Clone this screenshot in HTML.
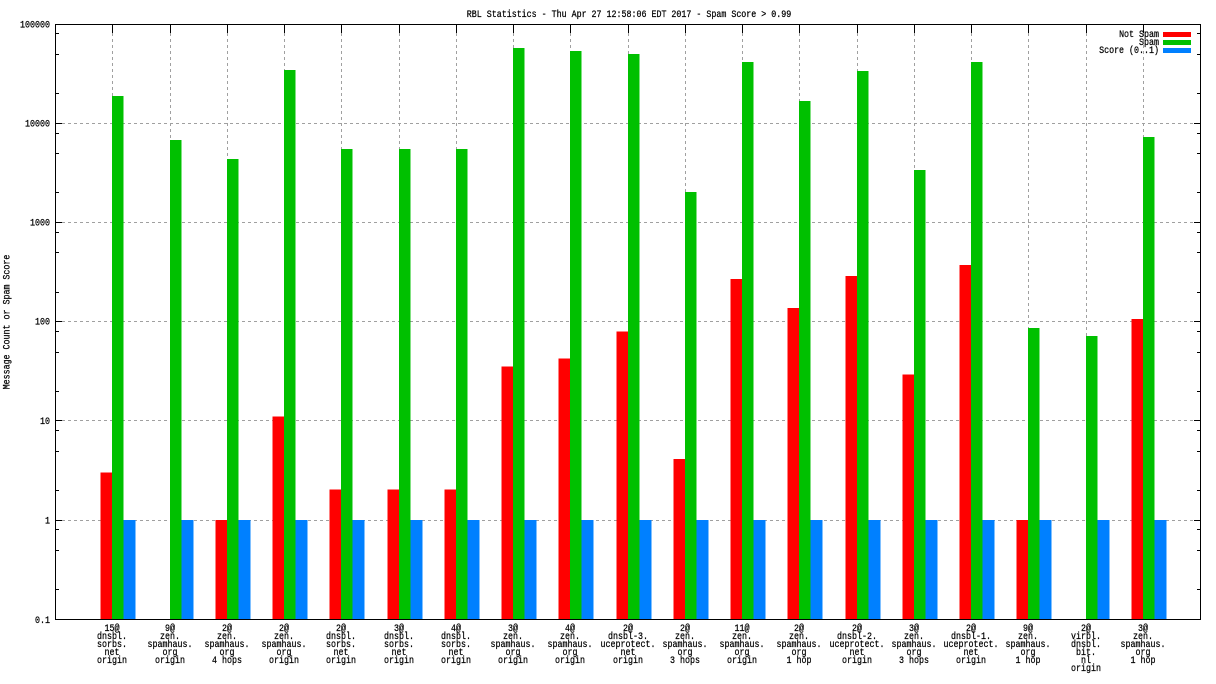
<!DOCTYPE html>
<html>
<head>
<meta charset="utf-8">
<style>
html,body{margin:0;padding:0;background:#fff;}
svg{display:block;}
text{font-family:"Liberation Mono","DejaVu Sans Mono",monospace;font-size:10px;fill:#000;stroke:#000;stroke-width:0.25px;}
.m{text-anchor:middle;}
.e{text-anchor:end;}
</style>
</head>
<body>
<svg width="1216" height="684" viewBox="0 0 1216 684" xmlns="http://www.w3.org/2000/svg">
<rect x="0" y="0" width="1216" height="684" fill="#fff"/>

<!-- grid -->
<g stroke="#a0a0a0" stroke-width="1" stroke-dasharray="3,3" fill="none" shape-rendering="crispEdges">
<path d="M62 123.5H1193M62 222.5H1193M62 321.5H1193M62 420.5H1193M62 520.5H1193"/>
<path d="M112.5 33V619M170.5 33V619M227.5 33V619M284.5 33V619M341.5 33V619M399.5 33V619M456.5 33V619M513.5 33V619M570.5 33V619M628.5 33V619M685.5 33V619M742.5 33V619M799.5 33V619M857.5 33V619M914.5 33V619M971.5 33V619M1028.5 33V619M1086.5 33V619M1143.5 33V619"/>
</g>

<!-- ticks -->
<g stroke="#000" stroke-width="1" fill="none" shape-rendering="crispEdges">
<path d="M55 24.5h7M55 123.5h7M55 222.5h7M55 321.5h7M55 420.5h7M55 520.5h7M55 619.5h7"/>
<path d="M1201 24.5h-7M1201 123.5h-7M1201 222.5h-7M1201 321.5h-7M1201 420.5h-7M1201 520.5h-7M1201 619.5h-7"/>
<path d="M55 33.5h4M55 54.5h4M55 93.5h4M55 133.5h4M55 153.5h4M55 192.5h4M55 232.5h4M55 252.5h4M55 292.5h4M55 331.5h4M55 352.5h4M55 391.5h4M55 430.5h4M55 451.5h4M55 490.5h4M55 529.5h4M55 550.5h4M55 589.5h4"/>
<path d="M1201 33.5h-4M1201 54.5h-4M1201 93.5h-4M1201 133.5h-4M1201 153.5h-4M1201 192.5h-4M1201 232.5h-4M1201 252.5h-4M1201 292.5h-4M1201 331.5h-4M1201 352.5h-4M1201 391.5h-4M1201 430.5h-4M1201 451.5h-4M1201 490.5h-4M1201 529.5h-4M1201 550.5h-4M1201 589.5h-4"/>
<path d="M112.5 24v9M170.5 24v9M227.5 24v9M284.5 24v9M341.5 24v9M399.5 24v9M456.5 24v9M513.5 24v9M570.5 24v9M628.5 24v9M685.5 24v9M742.5 24v9M799.5 24v9M857.5 24v9M914.5 24v9M971.5 24v9M1028.5 24v9M1086.5 24v9M1143.5 24v9"/>
<path d="M112.5 619v-9M170.5 619v-9M227.5 619v-9M284.5 619v-9M341.5 619v-9M399.5 619v-9M456.5 619v-9M513.5 619v-9M570.5 619v-9M628.5 619v-9M685.5 619v-9M742.5 619v-9M799.5 619v-9M857.5 619v-9M914.5 619v-9M971.5 619v-9M1028.5 619v-9M1086.5 619v-9M1143.5 619v-9"/>
</g>

<!-- red bars: Not Spam -->
<g fill="#ff0000" shape-rendering="crispEdges">
<rect x="100.3" y="472.5" width="11.7" height="146.5"/>
<rect x="215.3" y="520" width="11.7" height="99"/>
<rect x="272.3" y="416.5" width="11.7" height="202.5"/>
<rect x="329.3" y="489.5" width="11.7" height="129.5"/>
<rect x="387.3" y="489.5" width="11.7" height="129.5"/>
<rect x="444.3" y="489.5" width="11.7" height="129.5"/>
<rect x="501.3" y="366.5" width="11.7" height="252.5"/>
<rect x="558.3" y="358.5" width="11.7" height="260.5"/>
<rect x="616.3" y="331.5" width="11.7" height="287.5"/>
<rect x="673.3" y="459" width="11.7" height="160"/>
<rect x="730.3" y="279" width="11.7" height="340"/>
<rect x="787.3" y="308" width="11.7" height="311"/>
<rect x="845.3" y="276" width="11.7" height="343"/>
<rect x="902.3" y="374.5" width="11.7" height="244.5"/>
<rect x="959.3" y="265" width="11.7" height="354"/>
<rect x="1016.3" y="520" width="11.7" height="99"/>
<rect x="1131.3" y="319" width="11.7" height="300"/>
</g>

<!-- green bars: Spam -->
<g fill="#00c000" shape-rendering="crispEdges">
<rect x="112" y="96" width="11.7" height="523"/>
<rect x="170" y="140" width="11.7" height="479"/>
<rect x="227" y="159" width="11.7" height="460"/>
<rect x="284" y="70" width="11.7" height="549"/>
<rect x="341" y="149" width="11.7" height="470"/>
<rect x="399" y="149" width="11.7" height="470"/>
<rect x="456" y="149" width="11.7" height="470"/>
<rect x="513" y="48" width="11.7" height="571"/>
<rect x="570" y="51" width="11.7" height="568"/>
<rect x="628" y="54" width="11.7" height="565"/>
<rect x="685" y="192" width="11.7" height="427"/>
<rect x="742" y="62" width="11.7" height="557"/>
<rect x="799" y="101" width="11.7" height="518"/>
<rect x="857" y="71" width="11.7" height="548"/>
<rect x="914" y="170" width="11.7" height="449"/>
<rect x="971" y="62" width="11.7" height="557"/>
<rect x="1028" y="328" width="11.7" height="291"/>
<rect x="1086" y="336" width="11.7" height="283"/>
<rect x="1143" y="137" width="11.7" height="482"/>
</g>

<!-- blue bars: Score -->
<g fill="#0080ff" shape-rendering="crispEdges">
<rect x="123.7" y="520" width="11.7" height="99"/>
<rect x="181.7" y="520" width="11.7" height="99"/>
<rect x="238.7" y="520" width="11.7" height="99"/>
<rect x="295.7" y="520" width="11.7" height="99"/>
<rect x="352.7" y="520" width="11.7" height="99"/>
<rect x="410.7" y="520" width="11.7" height="99"/>
<rect x="467.7" y="520" width="11.7" height="99"/>
<rect x="524.7" y="520" width="11.7" height="99"/>
<rect x="581.7" y="520" width="11.7" height="99"/>
<rect x="639.7" y="520" width="11.7" height="99"/>
<rect x="696.7" y="520" width="11.7" height="99"/>
<rect x="753.7" y="520" width="11.7" height="99"/>
<rect x="810.7" y="520" width="11.7" height="99"/>
<rect x="868.7" y="520" width="11.7" height="99"/>
<rect x="925.7" y="520" width="11.7" height="99"/>
<rect x="982.7" y="520" width="11.7" height="99"/>
<rect x="1039.7" y="520" width="11.7" height="99"/>
<rect x="1097.7" y="520" width="11.7" height="99"/>
<rect x="1154.7" y="520" width="11.7" height="99"/>
</g>

<!-- border -->
<rect x="55.5" y="24.5" width="1145" height="595" fill="none" stroke="#000" stroke-width="1" shape-rendering="crispEdges"/>

<!-- title -->
<text class="m" transform="translate(629,17) scale(0.8333,1)">RBL Statistics - Thu Apr 27 12:58:06 EDT 2017 - Spam Score &gt; 0.99</text>

<!-- y label -->
<text class="m" transform="translate(9.5,322) rotate(-90) scale(0.8333,1)">Message Count or Spam Score</text>

<!-- y tick labels -->
<text class="e" transform="translate(50,27.5) scale(0.8333,1)">100000</text>
<text class="e" transform="translate(50,126.5) scale(0.8333,1)">10000</text>
<text class="e" transform="translate(50,225.5) scale(0.8333,1)">1000</text>
<text class="e" transform="translate(50,324.5) scale(0.8333,1)">100</text>
<text class="e" transform="translate(50,424) scale(0.8333,1)">10</text>
<text class="e" transform="translate(50,523.5) scale(0.8333,1)">1</text>
<text class="e" transform="translate(50,623) scale(0.8333,1)">0.1</text>

<!-- legend -->
<text class="e" transform="translate(1159,37) scale(0.8333,1)">Not Spam</text>
<text class="e" transform="translate(1159,45) scale(0.8333,1)">Spam</text>
<text class="e" transform="translate(1159,53) scale(0.8333,1)">Score (0..1)</text>
<g shape-rendering="crispEdges">
<rect x="1163" y="32" width="28" height="5" fill="#ff0000"/>
<rect x="1163" y="40" width="28" height="5" fill="#00c000"/>
<rect x="1163" y="48" width="28" height="5" fill="#0080ff"/>
</g>

<!-- x labels -->
<g class="m" text-anchor="middle">
<g transform="translate(112,0) scale(0.8333,1)"><text y="631">15@</text><text y="639">dnsbl.</text><text y="647">sorbs.</text><text y="655">net</text><text y="663">origin</text></g>
<g transform="translate(170,0) scale(0.8333,1)"><text y="631">9@</text><text y="639">zen.</text><text y="647">spamhaus.</text><text y="655">org</text><text y="663">origin</text></g>
<g transform="translate(227,0) scale(0.8333,1)"><text y="631">2@</text><text y="639">zen.</text><text y="647">spamhaus.</text><text y="655">org</text><text y="663">4 hops</text></g>
<g transform="translate(284,0) scale(0.8333,1)"><text y="631">2@</text><text y="639">zen.</text><text y="647">spamhaus.</text><text y="655">org</text><text y="663">origin</text></g>
<g transform="translate(341,0) scale(0.8333,1)"><text y="631">2@</text><text y="639">dnsbl.</text><text y="647">sorbs.</text><text y="655">net</text><text y="663">origin</text></g>
<g transform="translate(399,0) scale(0.8333,1)"><text y="631">3@</text><text y="639">dnsbl.</text><text y="647">sorbs.</text><text y="655">net</text><text y="663">origin</text></g>
<g transform="translate(456,0) scale(0.8333,1)"><text y="631">4@</text><text y="639">dnsbl.</text><text y="647">sorbs.</text><text y="655">net</text><text y="663">origin</text></g>
<g transform="translate(513,0) scale(0.8333,1)"><text y="631">3@</text><text y="639">zen.</text><text y="647">spamhaus.</text><text y="655">org</text><text y="663">origin</text></g>
<g transform="translate(570,0) scale(0.8333,1)"><text y="631">4@</text><text y="639">zen.</text><text y="647">spamhaus.</text><text y="655">org</text><text y="663">origin</text></g>
<g transform="translate(628,0) scale(0.8333,1)"><text y="631">2@</text><text y="639">dnsbl-3.</text><text y="647">uceprotect.</text><text y="655">net</text><text y="663">origin</text></g>
<g transform="translate(685,0) scale(0.8333,1)"><text y="631">2@</text><text y="639">zen.</text><text y="647">spamhaus.</text><text y="655">org</text><text y="663">3 hops</text></g>
<g transform="translate(742,0) scale(0.8333,1)"><text y="631">11@</text><text y="639">zen.</text><text y="647">spamhaus.</text><text y="655">org</text><text y="663">origin</text></g>
<g transform="translate(799,0) scale(0.8333,1)"><text y="631">2@</text><text y="639">zen.</text><text y="647">spamhaus.</text><text y="655">org</text><text y="663">1 hop</text></g>
<g transform="translate(857,0) scale(0.8333,1)"><text y="631">2@</text><text y="639">dnsbl-2.</text><text y="647">uceprotect.</text><text y="655">net</text><text y="663">origin</text></g>
<g transform="translate(914,0) scale(0.8333,1)"><text y="631">3@</text><text y="639">zen.</text><text y="647">spamhaus.</text><text y="655">org</text><text y="663">3 hops</text></g>
<g transform="translate(971,0) scale(0.8333,1)"><text y="631">2@</text><text y="639">dnsbl-1.</text><text y="647">uceprotect.</text><text y="655">net</text><text y="663">origin</text></g>
<g transform="translate(1028,0) scale(0.8333,1)"><text y="631">9@</text><text y="639">zen.</text><text y="647">spamhaus.</text><text y="655">org</text><text y="663">1 hop</text></g>
<g transform="translate(1086,0) scale(0.8333,1)"><text y="631">2@</text><text y="639">virbl.</text><text y="647">dnsbl.</text><text y="655">bit.</text><text y="663">nl</text><text y="671">origin</text></g>
<g transform="translate(1143,0) scale(0.8333,1)"><text y="631">3@</text><text y="639">zen.</text><text y="647">spamhaus.</text><text y="655">org</text><text y="663">1 hop</text></g>
</g>
</svg>
</body>
</html>
